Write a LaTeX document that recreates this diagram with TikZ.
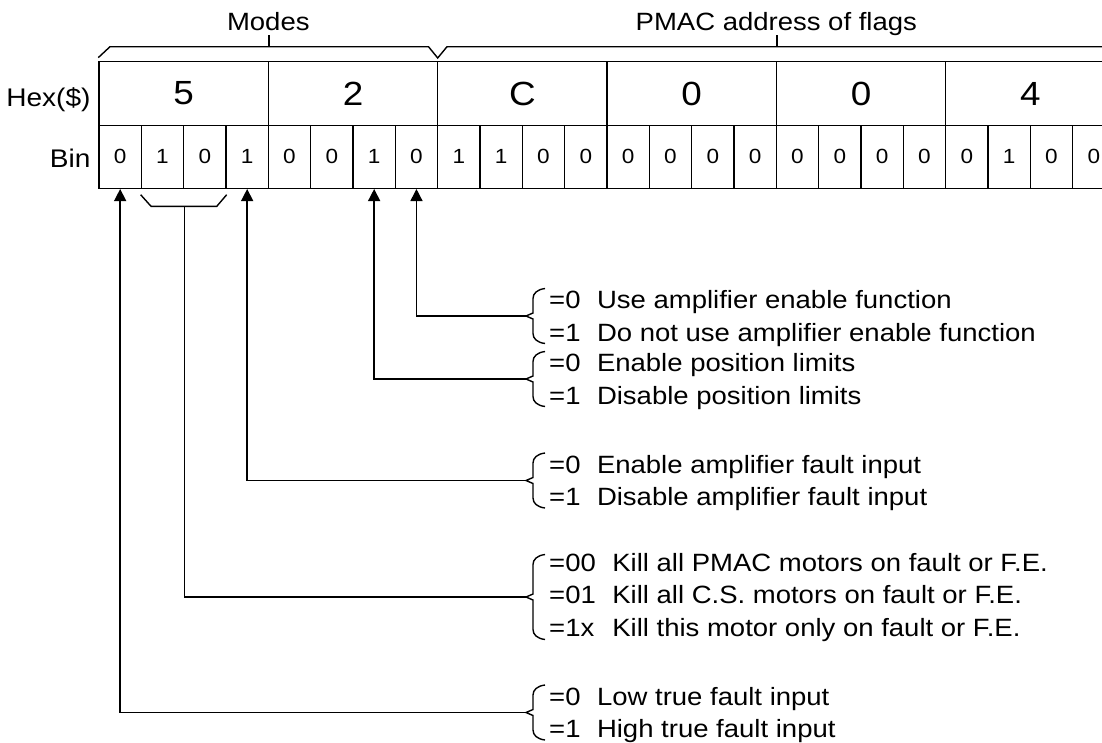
\documentclass[tikz,border=0pt]{standalone}
\usepackage{fontspec}
\setmainfont{Liberation Sans}
\newfontfamily\gfont[FakeStretch=1.1]{Liberation Sans}
\usetikzlibrary{arrows.meta,calc}
\newcommand\grpbrace[2]{%
  \draw[ln] (545,#1-#2) .. controls (537,#1-#2+1) and (533,#1-#2+5) .. (533,#1-#2+10)
    -- (533,#1-3) -- (526,#1) -- (533,#1+3) -- (533,#1+#2-10)
    .. controls (533,#1+#2-5) and (537,#1+#2-1) .. (545,#1+#2);}
\begin{document}
\begin{tikzpicture}[x=1pt,y=-1pt,
  ln/.style={line width=1.4pt},
  hexcell/.style={draw,line width=1.4pt,minimum width=169.33pt,minimum height=63.6pt,inner sep=0pt,font=\gfont\fontsize{33.5}{33.5}\selectfont},
  bitcell/.style={draw,line width=1.4pt,minimum width=42.33pt,minimum height=63pt,inner sep=0pt,font=\gfont\fontsize{20.5}{20.5}\selectfont},
  rowlbl/.style={anchor=base east,inner sep=0pt,font=\gfont\fontsize{25.5}{25.5}\selectfont},
  hdr/.style={anchor=base,inner sep=0pt,font=\gfont\fontsize{25}{25}\selectfont},
  grp/.style={anchor=west,inner sep=0pt,align=left,font=\gfont\fontsize{25}{32.5}\selectfont},
  arr/.style={line width=1.4pt,-{Triangle[length=12pt,width=12pt]}}]
\useasboundingbox (0,0) rectangle (1102,742);
\clip (0,0) rectangle (1102,742);

% hex row
\foreach \d [count=\j from 0] in {5,2,C,0,0,4}
  \node[hexcell] (h\j) at (99+169.33*\j+84.67,93.5) {\raisebox{-3pt}{\d}};
% bin row
\foreach \b [count=\i from 0] in {0,1,0,1,0,0,1,0,1,1,0,0,0,0,0,0,0,0,0,0,0,1,0,0}
  \node[bitcell] (b\i) at (99+42.33*\i+21.17,156.8) {\raisebox{-4pt}{\b}};

% row labels
\node[rowlbl] (lhex) at (90.7,106) {Hex(\$)};
\node[rowlbl] (lbin) at (90.7,167.7) {Bin};

% headers and field brackets
\node[hdr] (modes) at (268.3,30) {Modes};
\node[hdr] (pmac) at (776.3,30) {PMAC address of flags};
\draw[ln] ($(h0.north west)+(0,-3.4)$) -- (110,46.7) -- (428.5,46.7) -- (437.7,58) -- (447,46.7) -- (1110,46.7);
\draw[ln] (h0.north east |- 0,46.7) -- (h0.north east |- 0,35);
\draw[ln] (h3.north east |- 0,46.7) -- (h3.north east |- 0,35);

% bracket under bits 1-2
\coordinate (kc) at ($(b1.south east)+(0,17.4)$);
\draw[ln] ($(b1.south west)+(0,5.7)$) -- ($(b1.south west)+(10.5,17.4)$) -- ($(b2.south east)+(-10,17.4)$) -- ($(b2.south east)+(0,5.7)$);

% groups
\node[grp] (g1) at (549,318.5) {\begin{tabular}{@{}l@{\hspace{16.5pt}}l@{}}=0 & Use amplifier enable function\\ =1 & Do not use amplifier enable function\end{tabular}};
\node[grp] (g2) at (549,381.5) {\begin{tabular}{@{}l@{\hspace{16.5pt}}l@{}}=0 & Enable position limits\\ =1 & Disable position limits\end{tabular}};
\node[grp] (g3) at (549,483) {\begin{tabular}{@{}l@{\hspace{16.5pt}}l@{}}=0 & Enable amplifier fault input\\ =1 & Disable amplifier fault input\end{tabular}};
\node[grp] (g4) at (549,597) {\begin{tabular}{@{}l@{\hspace{16.5pt}}l@{}}=00 & Kill all PMAC motors on fault or F.E.\\ =01 & Kill all C.S. motors on fault or F.E.\\ =1x & Kill this motor only on fault or F.E.\end{tabular}};
\node[grp] (g5) at (549,715) {\begin{tabular}{@{}l@{\hspace{16.5pt}}l@{}}=0 & Low true fault input\\ =1 & High true fault input\end{tabular}};

\grpbrace{316}{27.5}
\grpbrace{379}{27.5}
\grpbrace{480.5}{27.5}
\grpbrace{597}{42.5}
\grpbrace{712.5}{27.5}
\coordinate (t1) at (526,316);
\coordinate (t2) at (526,379);
\coordinate (t3) at (526,480.5);
\coordinate (t4) at (526,597);
\coordinate (t5) at (526,712.5);

% connectors
\draw[arr] (t1) -| (b7.south);
\draw[arr] (t2) -| (b6.south);
\draw[arr] (t3) -| (b3.south);
\draw[ln] (t4) -| (kc);
\draw[arr] (t5) -| (b0.south);
\end{tikzpicture}
\end{document}
